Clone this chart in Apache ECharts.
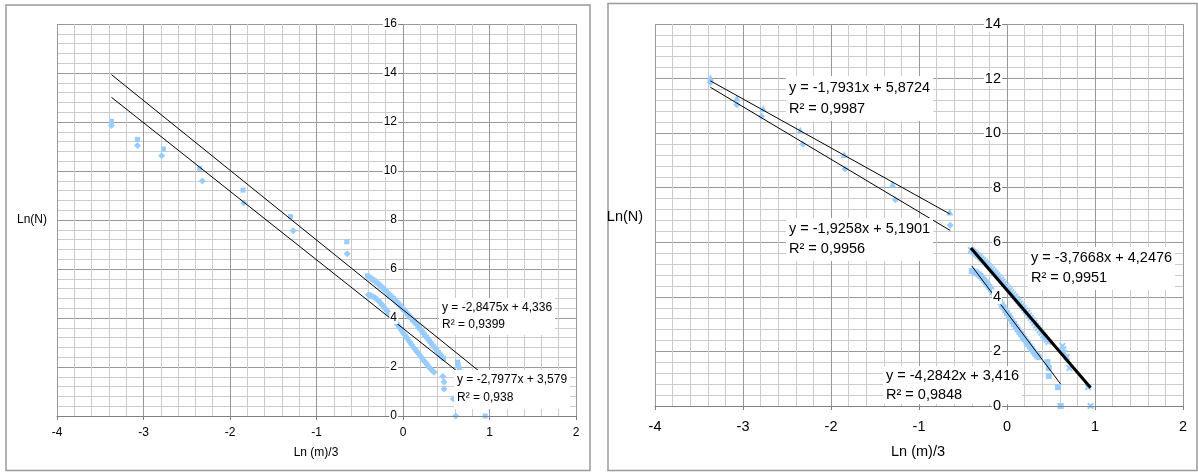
<!DOCTYPE html>
<html>
<head>
<meta charset="utf-8">
<script src="https://cdn.jsdelivr.net/npm/echarts@6/dist/echarts.min.js"></script>
<style>
html,body{margin:0;padding:0;background:#fff;}
#c{width:1198px;height:472px;}
</style>
</head>
<body>
<div id="c"></div>
<script>
// ---------------- DATA ----------------
const xTicks = [-4, -3, -2, -1, 0, 1, 2];
const yTicksLeft = [0, 2, 4, 6, 8, 10, 12, 14, 16];
const yTicksRight = [0, 2, 4, 6, 8, 10, 12, 14];

// upper series, isolated points at small x
const upperTail = [[-3.37,12.03],[-3.07,11.29],[-2.77,10.90],[-2.35,10.11],[-1.85,9.22],[-1.30,8.14],[-0.65,7.11]];
// lower series, isolated points at small x
const lowerTail = [[-3.37,11.86],[-3.07,11.04],[-2.79,10.62],[-2.32,9.59],[-1.84,8.69],[-1.27,7.56],[-0.645,6.62]];

// upper series, dense cluster near x = 0
const upperCluster = [
  [-0.41,5.72],[-0.39,5.67],[-0.37,5.62],[-0.35,5.57],[-0.33,5.52],[-0.31,5.46],[-0.29,5.40],[-0.27,5.34],
  [-0.25,5.27],[-0.23,5.21],[-0.21,5.14],[-0.19,5.07],[-0.17,5.00],[-0.15,4.93],[-0.13,4.86],[-0.11,4.79],
  [-0.09,4.72],[-0.07,4.64],[-0.05,4.57],[-0.03,4.49],[-0.01,4.41],[0.01,4.33],[0.03,4.25],[0.05,4.17],
  [0.07,4.09],[0.09,4.01],[0.11,3.93],[0.13,3.85],[0.15,3.77],[0.17,3.68],[0.19,3.59],[0.21,3.50],
  [0.23,3.41],[0.25,3.32],[0.27,3.23],[0.29,3.14],[0.31,3.05],[0.33,2.95],[0.35,2.86],[0.37,2.77],
  [0.39,2.68],[0.41,2.59],[0.43,2.50],[0.45,2.42],[0.47,2.35],
  [0.63,2.20],[0.64,2.08],[0.65,1.95],[0.68,1.79],[0.71,1.39],[0.92,0.69],[0.95,0.00]
];
// lower series, dense cluster near x = 0
const lowerCluster = [
  [-0.40,4.95],[-0.38,4.93],[-0.36,4.90],[-0.34,4.86],[-0.32,4.82],[-0.30,4.76],[-0.28,4.69],[-0.26,4.61],
  [-0.24,4.53],[-0.22,4.45],[-0.20,4.36],[-0.18,4.27],[-0.16,4.18],[-0.14,4.09],[-0.12,4.00],[-0.10,3.91],
  [-0.08,3.81],[-0.06,3.71],[-0.04,3.61],[-0.02,3.51],[0.00,3.41],[0.02,3.31],[0.04,3.21],[0.06,3.11],
  [0.08,3.01],[0.10,2.91],[0.12,2.81],[0.14,2.72],[0.16,2.63],[0.18,2.54],[0.20,2.45],[0.22,2.36],
  [0.24,2.27],[0.26,2.18],[0.28,2.09],[0.30,2.00],[0.32,1.92],[0.34,1.85],[0.36,1.79],
  [0.46,1.61],[0.475,1.39],[0.475,1.10],[0.58,0.69],[0.61,0.00]
];

// trend lines (left chart: upper, lower)
const leftSlopes = [-2.8475, -2.7977];
const leftIntercepts = [4.336, 3.579];
const leftR2 = [0.9399, 0.938];
// trend lines (right chart: upper tail, lower tail, upper cluster, lower cluster)
const rightSlopes = [-1.7931, -1.9258, -3.7668, -4.2842];
const rightIntercepts = [5.8724, 5.1901, 4.2476, 3.416];
const rightR2 = [0.9987, 0.9956, 0.9951, 0.9848];

const xTitle = 'Ln (m)/3';
const yTitle = 'Ln(N)';

// ---------------- HELPERS ----------------
const FONT = 'Liberation Sans, Arial, sans-serif';
const BLUE = '#99ccff';
const fmt = v => String(v).replace('.', ',');
function trend(points, slope, intercept) {
  const xs = points.map(p => p[0]);
  const x0 = Math.min(...xs), x1 = Math.max(...xs);
  return [[x0, slope * x0 + intercept], [x1, slope * x1 + intercept]];
}
function eqText(s, b, r2) {
  return 'y = ' + fmt(s) + 'x + ' + fmt(b) + '\nR\u00B2 = ' + fmt(r2);
}
const xMark = 'path://M0,2L2,0L5,3L8,0L10,2L7,5L10,8L8,10L5,7L2,10L0,8L3,5Z';

const gL = {left: 57, top: 24, width: 519, height: 392};
const gR = {left: 655, top: 24, width: 528, height: 382};

function gridAxes(gi, g, ticksY, fontSize, labelMargin) {
  const xMin = xTicks[0], xMax = xTicks[xTicks.length - 1];
  const base = {gridIndex: gi, type: 'value'};
  const bg = {
    axisLine: {show: false}, axisTick: {show: false}, axisLabel: {show: false},
    splitLine: {show: true, lineStyle: {color: '#999999', width: 1}},
    minorTick: {show: false, splitNumber: 5},
    minorSplitLine: {show: true, lineStyle: {color: '#cccccc', width: 1}}
  };
  const fg = (isY) => ({
    z: isY ? 101 : 5,
    axisLine: {show: !isY, onZero: false, lineStyle: {color: '#808080', width: 1}},
    axisTick: {show: true, length: 4, lineStyle: {color: '#808080'}},
    axisLabel: {show: true, color: '#000', fontFamily: FONT, fontSize: fontSize,
      margin: isY ? 5 : labelMargin, backgroundColor: '#fff', padding: [0, 1],
      formatter: v => String(v)},
    splitLine: {show: false}, minorSplitLine: {show: false}
  });
  const x = {min: xMin, max: xMax, interval: xTicks[1] - xTicks[0]};
  const y = {min: ticksY[0], max: ticksY[ticksY.length - 1], interval: ticksY[1] - ticksY[0]};
  // y axis drawn where x = 0
  const yOffset = -((0 - xMin) / (xMax - xMin)) * g.width;
  return {
    xs: [Object.assign({}, base, x, bg),
         Object.assign({}, base, x, fg(false), {gridIndex: gi + 1, position: 'bottom'})],
    ys: [Object.assign({}, base, y, bg, {position: 'left'}),
         Object.assign({}, base, y, fg(true), {gridIndex: gi + 1, position: 'left', offset: yOffset})]
  };
}

const L = gridAxes(0, gL, yTicksLeft, 12, 11);
const R = gridAxes(2, gR, yTicksRight, 14.5, 13);

function scatter(xi, data, symbol, size) {
  return {type: 'scatter', xAxisIndex: xi, yAxisIndex: xi, data: data, symbol: symbol,
    symbolSize: size, itemStyle: {color: BLUE, opacity: 1}, z: 2, silent: true, animation: false};
}
function line(xi, data, w) {
  return {type: 'line', xAxisIndex: xi, yAxisIndex: xi, data: data, symbol: 'none',
    lineStyle: {color: '#000', width: w}, z: 3, silent: true, animation: false};
}

const leftUpper = upperTail.concat(upperCluster);
const leftLower = lowerTail.concat(lowerCluster);

const series = [
  scatter(0, leftLower, 'diamond', 7),
  scatter(0, leftUpper, 'rect', 5),
  line(0, trend(leftUpper, leftSlopes[0], leftIntercepts[0]), 1),
  line(0, trend(leftLower, leftSlopes[1], leftIntercepts[1]), 1),

  scatter(2, lowerTail, 'diamond', 7),
  scatter(2, lowerCluster, 'rect', 6),
  scatter(2, upperTail, 'triangle', 7),
  scatter(2, upperCluster, xMark, 7),
  line(2, trend(upperTail, rightSlopes[0], rightIntercepts[0]), 1),
  line(2, trend(lowerTail, rightSlopes[1], rightIntercepts[1]), 1),
  line(2, trend(upperCluster, rightSlopes[2], rightIntercepts[2]), 3),
  line(2, trend(lowerCluster, rightSlopes[3], rightIntercepts[3]), 1)
];

function label(x, y, text, size, lh, pad) {
  return {type: 'text', x: x, y: y, z: 100,
    style: {text: text, font: size + 'px ' + FONT, fill: '#000', lineHeight: lh,
      backgroundColor: '#fff', padding: pad || [1, 3, 2, 3], align: 'left', verticalAlign: 'top'}};
}
function title(x, y, text, size) {
  return {type: 'text', x: x, y: y, z: 100,
    style: {text: text, font: size + 'px ' + FONT, fill: '#000', align: 'center', verticalAlign: 'middle'}};
}

const graphic = [
  {type: 'rect', z: 100, shape: {x: 6, y: 5, width: 584, height: 465.5},
    style: {fill: 'none', stroke: '#9a9a9a', lineWidth: 1.5}},
  {type: 'rect', z: 100, shape: {x: 608, y: 3.5, width: 589, height: 467},
    style: {fill: 'none', stroke: '#9a9a9a', lineWidth: 1.5}},
  title(32, 220, yTitle, 12),
  title(316, 453, xTitle, 12),
  title(625, 217, yTitle, 14.5),
  title(918, 452, xTitle, 14.5),
  label(439, 298, eqText(leftSlopes[0], leftIntercepts[0], leftR2[0]), 12, 17),
  label(454, 370, eqText(leftSlopes[1], leftIntercepts[1], leftR2[1]), 12, 18),
  label(786, 76, eqText(rightSlopes[0], rightIntercepts[0], rightR2[0]), 14.5, 21),
  label(786, 218, eqText(rightSlopes[1], rightIntercepts[1], rightR2[1]), 14.5, 20),
  label(1028, 247, eqText(rightSlopes[2], rightIntercepts[2], rightR2[2]), 14.5, 20),
  label(883, 366, eqText(rightSlopes[3], rightIntercepts[3], rightR2[3]), 14.5, 19, [0, 3, 0, 3])
];

const option = {
  backgroundColor: '#fff',
  animation: false,
  grid: [
    Object.assign({}, gL), Object.assign({}, gL),
    Object.assign({}, gR), Object.assign({}, gR)
  ],
  xAxis: [L.xs[0], L.xs[1], R.xs[0], R.xs[1]],
  yAxis: [L.ys[0], L.ys[1], R.ys[0], R.ys[1]],
  series: series,
  graphic: graphic
};

const chart = echarts.init(document.getElementById('c'), null, {renderer: 'canvas'});
chart.setOption(option);
</script>
</body>
</html>
